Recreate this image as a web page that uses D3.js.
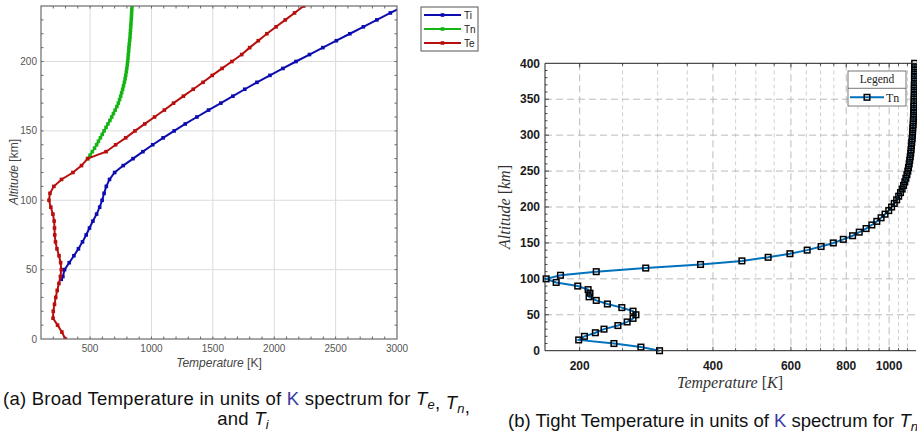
<!DOCTYPE html>
<html>
<head>
<meta charset="utf-8">
<script src="https://cdn.jsdelivr.net/npm/d3@7"></script>
<style>
  body { margin: 0; background: #fff; overflow: hidden; }
  svg { display: block; }
</style>
</head>
<body>
<svg id="fig" width="917" height="432"></svg>
<script>
// ---- data (a): broad temperature profiles, altitude in km, T in K ----
var tiAlt = [43, 45, 50, 55, 60, 65, 70, 75, 80, 85, 90, 95, 100, 105, 110, 115, 120, 125, 130, 135, 140,
  145, 150, 155, 160, 165, 170, 175, 180, 185, 190, 195, 200, 205, 210, 215, 220, 225, 230, 235, 240];
var tiVal = [265, 278, 292, 330, 368, 405, 438, 468, 495, 523, 553, 578, 598, 614, 632, 658, 700, 770, 850, 930, 1010,
  1095, 1185, 1275, 1370, 1465, 1565, 1663, 1760, 1859, 1965, 2071, 2177, 2287, 2396, 2506, 2616, 2726, 2836, 2946, 3056];

var tnAlt = [130, 132.5, 135, 137.5, 140, 142.5, 145, 147.5, 150, 152.5, 155, 157.5, 160, 162.5, 165, 167.5, 170,
  172.5, 175, 177.5, 180, 182.5, 185, 187.5, 190, 192.5, 195, 197.5, 200, 202.5, 205, 207.5, 210, 212.5, 215,
  217.5, 220, 222.5, 225, 227.5, 230, 232.5, 235, 237.5, 240];
var tnVal = [480, 500, 518, 536, 553, 568, 584, 599, 614, 630, 645, 661, 676, 690, 704, 718, 730,
  740, 749, 757, 765, 772, 779, 785, 790, 795, 799, 803, 806, 809, 811, 814, 816, 819, 822,
  825, 827, 829, 831, 833, 835, 837, 838, 840, 841];

var teAlt = [0, 5, 10, 15, 20, 25, 30, 35, 40, 45, 50, 55, 60, 65, 70, 75, 80, 85, 90, 95, 100, 105, 110, 115, 120,
  125, 130, 135, 140, 145, 150, 155, 160, 165, 170, 175, 180, 185, 190, 195, 200, 205, 210, 215, 220, 225, 230, 235, 240];
var teVal = [298, 270, 235, 198, 200, 210, 220, 232, 246, 258, 265, 260, 247, 230, 218, 212, 210, 207, 197, 180, 165, 173, 205, 267, 360,
  430, 480, 630, 708, 790, 866, 945, 1025, 1105, 1180, 1260, 1340, 1420, 1495, 1575, 1655, 1735, 1800, 1870, 1940, 2015, 2090, 2165, 2240];

// ---- data (b): tight Tn profile ----
var tn2Alt = [0, 5, 10, 15, 20, 25, 30, 35, 40, 45, 50, 55, 60, 65, 70, 75, 80, 85, 90, 95, 100,
  105, 110, 115, 120, 125, 130, 135, 140, 145, 150, 155, 160, 165, 170, 175, 180, 185, 190, 195, 200,
  205, 210, 215, 220, 225, 230, 235, 240, 245, 250, 255, 260, 265, 270, 275, 280, 285, 290, 295, 300,
  305, 310, 315, 320, 325, 330, 335, 340, 345, 350, 355, 360, 365, 370, 375, 380, 385, 390, 395, 400];
var tn2Val = [303, 275, 239, 199, 205, 217, 227, 244, 256, 264, 268, 264, 249, 231, 218, 210, 211, 209, 198, 177, 168,
  181, 218, 282, 375, 465, 533, 597, 653, 702, 748, 788, 827, 856, 887, 914, 938, 959, 979, 998, 1013,
  1027, 1040, 1051, 1061, 1070, 1078, 1085, 1091, 1097, 1102, 1106, 1110, 1113, 1116, 1119, 1121, 1123, 1125, 1127, 1129,
  1130, 1131, 1133, 1134, 1135, 1136, 1137, 1137, 1138, 1139, 1139, 1140, 1140, 1140, 1141, 1141, 1141, 1142, 1142, 1142];

var leftXTicks = [500, 1000, 1500, 2000, 2500, 3000];
var leftYTicks = [0, 50, 100, 150, 200];
var rightXTicks = [200, 400, 600, 800, 1000];
var rightYTicks = [0, 50, 100, 150, 200, 250, 300, 350, 400];

var svg = d3.select("#fig");
svg.append("rect").attr("width", 917).attr("height", 432).attr("fill", "#fff");

function zip(a, v) { return a.map((d, i) => ({ alt: d, t: v[i] })); }

// ================= chart (a) =================
var xL = d3.scaleLinear().domain([100, 3000]).range([41, 397]);
var yL = d3.scaleLinear().domain([0, 240]).range([339, 6]);
var gL = svg.append("g");

svg.append("clipPath").attr("id", "clipL").append("rect")
  .attr("x", 41).attr("y", 6).attr("width", 356).attr("height", 333);

// grid
gL.append("g").selectAll("line").data(leftXTicks.slice(0, -1)).enter().append("line")
  .attr("x1", d => xL(d)).attr("x2", d => xL(d)).attr("y1", 6).attr("y2", 339)
  .attr("stroke", "#dcdcdc").attr("stroke-width", 1);
gL.append("g").selectAll("line").data(leftYTicks.slice(1)).enter().append("line")
  .attr("y1", d => yL(d)).attr("y2", d => yL(d)).attr("x1", 41).attr("x2", 397)
  .attr("stroke", "#dcdcdc").attr("stroke-width", 1);

// ticks (inward) on all four sides
var minorX = d3.range(200, 3000, 100);
var minorY = d3.range(10, 240, 10);
function tickSet(g, vals, len, axis) {
  g.selectAll(null).data(vals).enter().append("line")
    .attr("stroke", "#666").attr("stroke-width", 1)
    .each(function (d) {
      var s = d3.select(this);
      if (axis === "xb") s.attr("x1", xL(d)).attr("x2", xL(d)).attr("y1", 339).attr("y2", 339 - len);
      if (axis === "xt") s.attr("x1", xL(d)).attr("x2", xL(d)).attr("y1", 6).attr("y2", 6 + len);
      if (axis === "yl") s.attr("y1", yL(d)).attr("y2", yL(d)).attr("x1", 41).attr("x2", 41 + len);
      if (axis === "yr") s.attr("y1", yL(d)).attr("y2", yL(d)).attr("x1", 397).attr("x2", 397 - len);
    });
}
var tkL = gL.append("g");
["xb", "xt"].forEach(a => tickSet(tkL, minorX, 2.5, a));
["yl", "yr"].forEach(a => tickSet(tkL, minorY, 2.5, a));

// lines
var lineL = d3.line().x(d => xL(d.t)).y(d => yL(d.alt));
var seriesL = [
  { name: "Ti", color: "#0c0cb0", data: zip(tiAlt, tiVal) },
  { name: "Tn", color: "#14b414", data: zip(tnAlt, tnVal) },
  { name: "Te", color: "#b80e0e", data: zip(teAlt, teVal) }
];
var plotL = gL.append("g").attr("clip-path", "url(#clipL)");
seriesL.forEach(s => {
  plotL.append("path").datum(s.data).attr("d", lineL)
    .attr("fill", "none").attr("stroke", s.color).attr("stroke-width", 2);
  plotL.selectAll(null).data(s.data).enter().append("rect")
    .attr("x", d => xL(d.t) - 1.8).attr("y", d => yL(d.alt) - 1.8)
    .attr("width", 3.6).attr("height", 3.6).attr("fill", s.color);
});

// box
gL.append("rect").attr("x", 41).attr("y", 6).attr("width", 356).attr("height", 333)
  .attr("fill", "none").attr("stroke", "#6a6a6a").attr("stroke-width", 1.2);

// tick labels
gL.append("g").selectAll("text").data(leftXTicks).enter().append("text")
  .attr("x", d => xL(d)).attr("y", 352).attr("text-anchor", "middle")
  .attr("font-family", "Liberation Sans, Arial, sans-serif").attr("font-size", 10).attr("fill", "#555")
  .text(d => d);
gL.append("g").selectAll("text").data(leftYTicks).enter().append("text")
  .attr("x", 37).attr("y", d => yL(d) + 3.5).attr("text-anchor", "end")
  .attr("font-family", "Liberation Sans, Arial, sans-serif").attr("font-size", 10).attr("fill", "#555")
  .text(d => d);

// axis titles
var xtL = gL.append("text").attr("x", 219).attr("y", 367).attr("text-anchor", "middle")
  .attr("font-family", "Liberation Sans, Arial, sans-serif").attr("font-size", 12).attr("fill", "#444");
xtL.append("tspan").attr("font-style", "italic").text("Temperature");
xtL.append("tspan").text(" [K]");
var ytL = gL.append("text").attr("transform", "translate(18,172) rotate(-90)").attr("text-anchor", "middle")
  .attr("font-family", "Liberation Sans, Arial, sans-serif").attr("font-size", 12).attr("fill", "#444");
ytL.append("tspan").attr("font-style", "italic").text("Altitude");
ytL.append("tspan").text(" [km]");

// legend (a)
var lgA = gL.append("g");
lgA.append("rect").attr("x", 421).attr("y", 7).attr("width", 57).attr("height", 44)
  .attr("fill", "#fff").attr("stroke", "#555").attr("stroke-width", 1);
seriesL.forEach((s, i) => {
  var yy = 15 + i * 14;
  lgA.append("line").attr("x1", 424).attr("x2", 461).attr("y1", yy).attr("y2", yy)
    .attr("stroke", s.color).attr("stroke-width", 2);
  lgA.append("rect").attr("x", 440.7).attr("y", yy - 1.8).attr("width", 3.6).attr("height", 3.6).attr("fill", s.color);
  lgA.append("text").attr("x", 464).attr("y", yy + 3.5)
    .attr("font-family", "Liberation Sans, Arial, sans-serif").attr("font-size", 10).attr("fill", "#222")
    .text(s.name);
});

// ================= chart (b) =================
var xR = d3.scaleLog().domain([167, 1150]).range([545, 916]);
var yR = d3.scaleLinear().domain([0, 400]).range([350.7, 63.3]);
var gR = svg.append("g");

svg.append("clipPath").attr("id", "clipR").append("rect")
  .attr("x", 540).attr("y", 55).attr("width", 380).attr("height", 300);

var minorRX = d3.range(250, 1150, 50).filter(d => rightXTicks.indexOf(d) < 0);
// grid
gR.append("g").selectAll("line").data(minorRX).enter().append("line")
  .attr("x1", d => xR(d)).attr("x2", d => xR(d)).attr("y1", 63.3).attr("y2", 350.7)
  .attr("stroke", "#c4c4c4").attr("stroke-width", 0.8).attr("stroke-dasharray", "4,3");
gR.append("g").selectAll("line").data(rightXTicks).enter().append("line")
  .attr("x1", d => xR(d)).attr("x2", d => xR(d)).attr("y1", 63.3).attr("y2", 350.7)
  .attr("stroke", "#bbb").attr("stroke-width", 1).attr("stroke-dasharray", "7,4");
gR.append("g").selectAll("line").data(rightYTicks.slice(1, -1)).enter().append("line")
  .attr("y1", d => yR(d)).attr("y2", d => yR(d)).attr("x1", 545).attr("x2", 916)
  .attr("stroke", "#bbb").attr("stroke-width", 1).attr("stroke-dasharray", "7,4");

// ticks
var tkR = gR.append("g").attr("stroke", "#222").attr("stroke-width", 0.8);
minorRX.concat(rightXTicks).forEach(d => {
  var len = rightXTicks.indexOf(d) >= 0 ? 4 : 2.5;
  tkR.append("line").attr("x1", xR(d)).attr("x2", xR(d)).attr("y1", 350.7).attr("y2", 350.7 - len);
  tkR.append("line").attr("x1", xR(d)).attr("x2", xR(d)).attr("y1", 63.3).attr("y2", 63.3 + len);
});
d3.range(10, 400, 10).forEach(d => {
  var len = d % 50 === 0 ? 4 : 2.5;
  tkR.append("line").attr("x1", 545).attr("x2", 545 + len).attr("y1", yR(d)).attr("y2", yR(d));
});

// line and markers
var lineR = d3.line().x(d => xR(d.t)).y(d => yR(d.alt));
var tnData = zip(tn2Alt, tn2Val);
var plotR = gR.append("g").attr("clip-path", "url(#clipR)");
plotR.append("path").datum(tnData).attr("d", lineR)
  .attr("fill", "none").attr("stroke", "#0072BD").attr("stroke-width", 2);
plotR.selectAll(null).data(tnData).enter().append("rect")
  .attr("x", d => xR(d.t) - 2.8).attr("y", d => yR(d.alt) - 2.8)
  .attr("width", 5.6).attr("height", 5.6)
  .attr("fill", "none").attr("stroke", "#000").attr("stroke-width", 1.5);

// box
gR.append("path").attr("d", "M916,63.3H545V350.7H916")
  .attr("fill", "none").attr("stroke", "#222").attr("stroke-width", 1);

// tick labels
gR.append("g").selectAll("text").data(rightXTicks).enter().append("text")
  .attr("x", d => xR(d)).attr("y", 369.5).attr("text-anchor", "middle")
  .attr("font-family", "Liberation Sans, Arial, sans-serif").attr("font-size", 12).attr("font-weight", "bold")
  .attr("fill", "#1a1a1a").text(d => d);
gR.append("g").selectAll("text").data(rightYTicks).enter().append("text")
  .attr("x", 540).attr("y", d => yR(d) + 4.2).attr("text-anchor", "end")
  .attr("font-family", "Liberation Sans, Arial, sans-serif").attr("font-size", 12).attr("font-weight", "bold")
  .attr("fill", "#1a1a1a").text(d => d);

// axis titles (LaTeX-like)
var xtR = gR.append("text").attr("x", 730).attr("y", 388).attr("text-anchor", "middle")
  .attr("font-family", "Liberation Serif, DejaVu Serif, serif").attr("font-size", 16).attr("fill", "#333");
xtR.append("tspan").attr("font-style", "italic").text("Temperature");
xtR.append("tspan").text(" [");
xtR.append("tspan").attr("font-style", "italic").text("K");
xtR.append("tspan").text("]");
var ytR = gR.append("text").attr("transform", "translate(510,207) rotate(-90)").attr("text-anchor", "middle")
  .attr("font-family", "Liberation Serif, DejaVu Serif, serif").attr("font-size", 16).attr("fill", "#333");
ytR.append("tspan").attr("font-style", "italic").text("Altitude");
ytR.append("tspan").text(" [");
ytR.append("tspan").attr("font-style", "italic").text("km");
ytR.append("tspan").text("]");

// legend (b)
var lgB = gR.append("g");
lgB.append("rect").attr("x", 848).attr("y", 71).attr("width", 58).attr("height", 35)
  .attr("fill", "#fff").attr("stroke", "#555").attr("stroke-width", 0.8);
lgB.append("line").attr("x1", 848).attr("x2", 906).attr("y1", 88.3).attr("y2", 88.3)
  .attr("stroke", "#555").attr("stroke-width", 0.8);
lgB.append("text").attr("x", 877).attr("y", 82.5).attr("text-anchor", "middle")
  .attr("font-family", "Liberation Serif, DejaVu Serif, serif").attr("font-size", 11.5).attr("fill", "#222")
  .text("Legend");
lgB.append("line").attr("x1", 850).attr("x2", 884).attr("y1", 97.3).attr("y2", 97.3)
  .attr("stroke", "#0072BD").attr("stroke-width", 2);
lgB.append("rect").attr("x", 864.2).attr("y", 94.5).attr("width", 5.6).attr("height", 5.6)
  .attr("fill", "none").attr("stroke", "#000").attr("stroke-width", 1.5);
lgB.append("text").attr("x", 886).attr("y", 101.5)
  .attr("font-family", "Liberation Serif, DejaVu Serif, serif").attr("font-size", 12).attr("fill", "#222")
  .text("Tn");

// ================= captions =================
var capFont = "Liberation Sans, Arial, sans-serif";
var capSize = 18.5;
var linkColor = "#3a3aa0";
function tSym(t, sub) {
  t.append("tspan").attr("font-style", "italic").text("T");
  t.append("tspan").attr("font-style", "italic").attr("font-size", 13).attr("dy", 4).text(sub);
  t.append("tspan").attr("dy", -4).text("");
}
var c1 = svg.append("text").attr("x", 3).attr("y", 405)
  .attr("font-family", capFont).attr("font-size", capSize).attr("letter-spacing", 0.25).attr("fill", "#111");
c1.append("tspan").text("(a) Broad Temperature in units of ");
c1.append("tspan").attr("fill", linkColor).text("K");
c1.append("tspan").text(" spectrum for ");
tSym(c1, "e");
c1.append("tspan").text(", ");
tSym(c1, "n");
c1.append("tspan").text(",");

var c2 = svg.append("text").attr("x", 243).attr("y", 425).attr("text-anchor", "middle")
  .attr("font-family", capFont).attr("font-size", capSize).attr("letter-spacing", 0.25).attr("fill", "#111");
c2.append("tspan").text("and ");
tSym(c2, "i");

var c3 = svg.append("text").attr("x", 508).attr("y", 427)
  .attr("font-family", capFont).attr("font-size", capSize).attr("fill", "#111");
c3.append("tspan").text("(b) Tight Temperature in units of ");
c3.append("tspan").attr("fill", linkColor).text("K");
c3.append("tspan").text(" spectrum for ");
tSym(c3, "n");
</script>
</body>
</html>
